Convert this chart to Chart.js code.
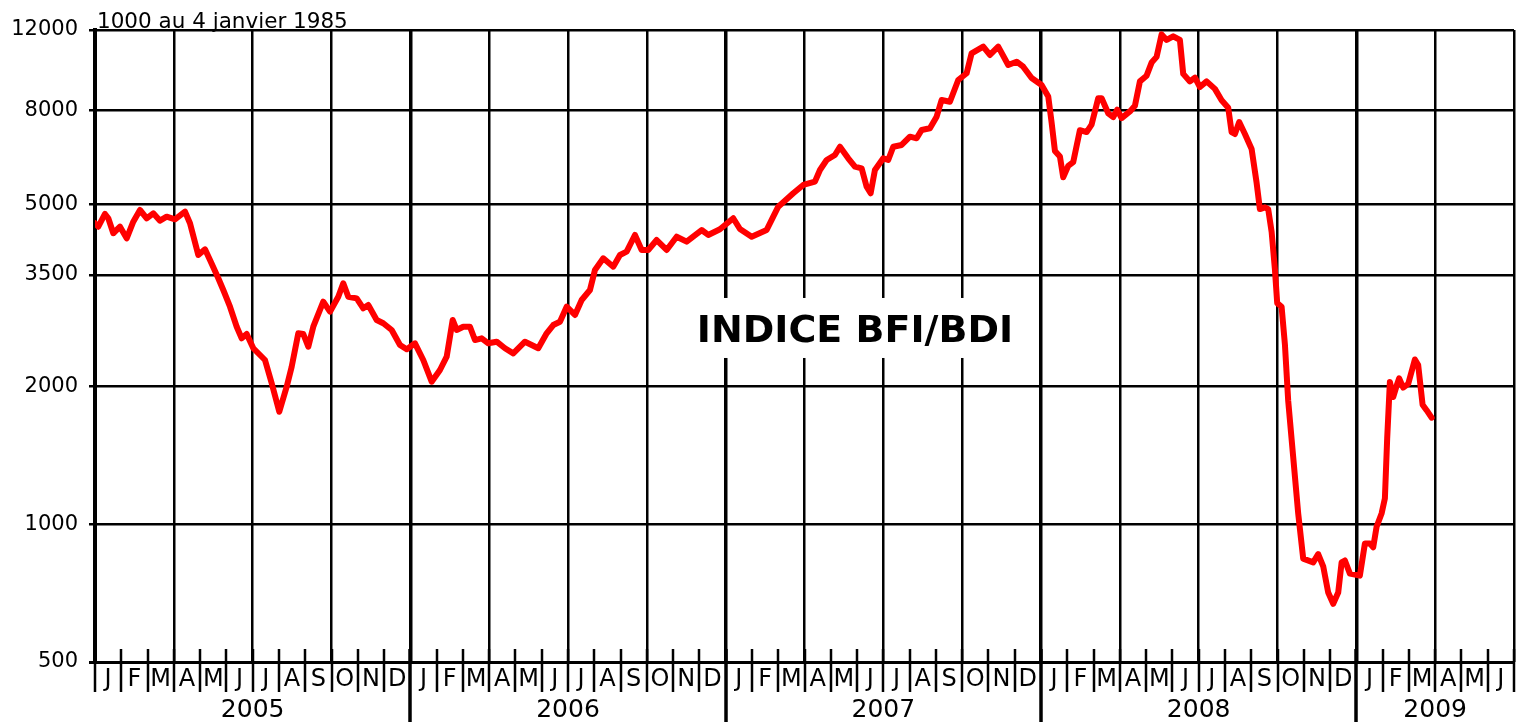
<!DOCTYPE html>
<html>
<head>
<meta charset="utf-8">
<script src="https://cdn.jsdelivr.net/npm/chart.js@4.4.1/dist/chart.umd.min.js"></script>
<style>
html,body{margin:0;padding:0;background:#fff;}
#wrap{width:1523px;height:722px;position:relative;}
canvas{display:block;}
</style>
</head>
<body>
<div id="wrap"><canvas id="c" width="1523" height="722"></canvas></div>
<script>
// ---- data (months since 1 Jan 2005, BDI value) ----
const monthPos = [0,0.126,0.38,0.506,0.696,0.951,1.206,1.457,1.712,1.967,2.218,2.473,2.728,3.044,3.425,3.615,3.931,4.186,4.376,4.692,4.882,5.137,5.392,5.582,5.772,6.024,6.279,6.469,6.724,7.013,7.295,7.485,7.736,7.926,8.117,8.307,8.687,8.942,9.258,9.448,9.638,9.958,10.209,10.4,10.719,10.97,11.29,11.606,11.861,12.177,12.492,12.812,13.128,13.383,13.508,13.611,13.763,14.014,14.269,14.46,14.715,14.966,15.286,15.601,15.917,16.362,16.617,16.868,17.188,17.439,17.694,17.949,18.265,18.52,18.836,19.026,19.342,19.722,19.977,20.232,20.548,20.803,21.054,21.374,21.754,22.135,22.515,23.086,23.337,23.782,24.288,24.543,24.989,25.559,25.811,26.001,26.572,26.952,27.397,27.588,27.843,28.158,28.349,28.664,28.919,29.174,29.364,29.517,29.68,29.996,30.186,30.377,30.696,31.012,31.267,31.457,31.773,32.028,32.218,32.534,32.85,33.17,33.36,33.801,34.056,34.372,34.753,35.072,35.323,35.643,36.023,36.275,36.404,36.53,36.72,36.845,37.036,37.226,37.481,37.736,37.926,38.177,38.307,38.558,38.748,38.9,39.068,39.384,39.574,39.764,40.019,40.209,40.399,40.59,40.78,41.031,41.286,41.412,41.667,41.857,42.047,42.302,42.618,42.873,43.124,43.253,43.379,43.543,43.76,44.015,44.205,44.33,44.521,44.646,44.776,44.901,44.989,45.156,45.282,45.407,45.598,45.788,45.978,46.359,46.549,46.739,46.929,47.12,47.31,47.44,47.565,47.755,48.135,48.326,48.516,48.642,48.771,48.961,49.087,49.174,49.277,49.402,49.532,49.631,49.783,49.973,50.228,50.354,50.521,50.673,50.864];
const bdiValues = [4540,4463,4758,4656,4318,4463,4210,4577,4854,4656,4774,4600,4693,4632,4813,4540,3871,3983,3775,3443,3246,2985,2699,2546,2602,2422,2341,2283,2031,1760,1996,2207,2611,2602,2441,2699,3061,2911,3138,3358,3138,3113,2961,3010,2792,2746,2655,2462,2409,2483,2283,2047,2171,2321,2567,2792,2655,2699,2699,2524,2546,2483,2503,2422,2361,2503,2462,2422,2611,2722,2768,2985,2863,3087,3246,3590,3807,3650,3871,3936,4281,3970,3970,4174,3970,4244,4139,4389,4281,4405,4656,4412,4244,4389,4693,4935,5280,5505,5597,5936,6242,6401,6673,6295,6035,5986,5458,5280,5936,6295,6242,6673,6731,7017,6961,7258,7320,7760,8439,8367,9332,9653,10674,11035,10583,11035,10064,10233,9978,9427,9101,8594,7530,6534,6353,5725,6059,6173,7251,7182,7458,8513,8513,7894,7745,8042,7702,7969,8197,9267,9537,10186,10483,11738,11412,11626,11412,9624,9267,9446,9010,9267,8924,8431,8119,7182,7113,7556,7113,6597,5565,4876,4920,4876,4352,3603,3039,2983,2469,1860,1400,1055,841,825,860,809,709,670,709,825,833,780,772,907,907,890,987,1055,1138,1539,2044,1895,2005,2082,1987,2024,2289,2225,1824,1774,1708];
const monthLetters = ['J','F','M','A','M','J','J','A','S','O','N','D'];
const years = ['2005','2006','2007','2008','2009'];
const yTicks = [500,1000,2000,3500,5000,8000,12000];
const totalMonths = 54;
const titleText = 'INDICE BFI/BDI';
const noteText = '1000 au 4 janvier 1985';

const FONT = '"DejaVu Sans", "Liberation Sans", sans-serif';

const points = monthPos.map((m, i) => ({x: m, y: bdiValues[i]}));

const decor = {
  id: 'decor',
  beforeDatasetsDraw(chart) {
    const {ctx, scales} = chart;
    const cx = scales.x.getPixelForValue(28.92);
    const cy = scales.y.getPixelForValue(2655);
    ctx.save();
    ctx.fillStyle = '#fff';
    ctx.fillRect(cx - 165, cy - 32, 330, 60);
    ctx.fillStyle = '#000';
    ctx.font = 'bold 38px ' + FONT;
    ctx.textAlign = 'center';
    ctx.textBaseline = 'middle';
    ctx.fillText(titleText, cx, cy + 2);
    ctx.restore();
  },
  afterDraw(chart) {
    const {ctx, scales, chartArea} = chart;
    const xs = scales.x;
    const bottom = chartArea.bottom;
    ctx.save();
    ctx.strokeStyle = '#000';
    ctx.lineCap = 'butt';
    for (let i = 0; i <= totalMonths; i++) {
      const px = Math.round(xs.getPixelForValue(i));
      const isYear = (i % 12 === 0) && i > 0 && i < totalMonths;
      ctx.lineWidth = isYear ? 3.5 : 2.5;
      ctx.beginPath();
      ctx.moveTo(px, bottom - 13);
      ctx.lineTo(px, isYear ? 722 : bottom + 30);
      ctx.stroke();
    }
    ctx.fillStyle = '#000';
    ctx.font = '25px ' + FONT;
    ctx.textAlign = 'center';
    ctx.textBaseline = 'middle';
    years.forEach((yr, k) => {
      const s = k * 12, e = Math.min(s + 12, totalMonths);
      ctx.fillText(yr, xs.getPixelForValue((s + e) / 2), 710);
    });
    ctx.font = '21.5px ' + FONT;
    ctx.textAlign = 'left';
    ctx.textBaseline = 'alphabetic';
    ctx.fillText(noteText, chartArea.left + 2, chartArea.top - 2);
    ctx.restore();
  }
};

new Chart(document.getElementById('c'), {
  type: 'line',
  data: {
    datasets: [{
      data: points,
      borderColor: '#ff0000',
      borderWidth: 6,
      pointRadius: 0,
      tension: 0,
      borderJoinStyle: 'round',
      borderCapStyle: 'round',
      fill: false
    }]
  },
  options: {
    responsive: false,
    devicePixelRatio: 1,
    animation: false,
    parsing: true,
    layout: {padding: {top: 30, right: 9, left: 0, bottom: 0}},
    plugins: {legend: {display: false}, tooltip: {enabled: false}, title: {display: false}},
    scales: {
      x: {
        type: 'linear', position: 'bottom', min: 0, max: totalMonths,
        afterBuildTicks: (axis) => { axis.ticks = Array.from({length: totalMonths}, (_, i) => ({value: i + 0.5})); },
        afterFit: (s) => { s.height = 60; },
        grid: {display: false, drawTicks: false},
        border: {display: true, color: '#000', width: 3},
        ticks: {
          autoSkip: false, maxRotation: 0, minRotation: 0, padding: 3,
          color: '#000', font: {family: FONT, size: 24},
          callback: (v) => monthLetters[Math.floor(v) % 12]
        }
      },
      x2: {
        type: 'linear', position: 'bottom', min: 0, max: totalMonths,
        afterBuildTicks: (axis) => { axis.ticks = Array.from({length: totalMonths / 3 + 1}, (_, i) => ({value: i * 3})); },
        afterFit: (s) => { s.height = 0; },
        border: {display: false},
        grid: {
          display: true, drawTicks: false, color: '#000',
          lineWidth: (c) => (c.tick && c.tick.value % 12 === 0) ? 3.5 : 2.5
        },
        ticks: {display: false}
      },
      y: {
        type: 'logarithmic', position: 'left', min: 500, max: 12000,
        afterBuildTicks: (axis) => { axis.ticks = yTicks.map(v => ({value: v})); },
        afterFit: (s) => { s.width = 95; },
        border: {display: true, color: '#000', width: 4},
        grid: {
          color: '#000', tickLength: 6, tickColor: '#000',
          lineWidth: (c) => (c.tick && c.tick.value === 500) ? 3 : 2.5
        },
        ticks: {
          padding: 11, color: '#000', font: {family: FONT, size: 21},
          callback: (v) => String(v)
        }
      }
    }
  },
  plugins: [decor]
});
</script>
</body>
</html>
